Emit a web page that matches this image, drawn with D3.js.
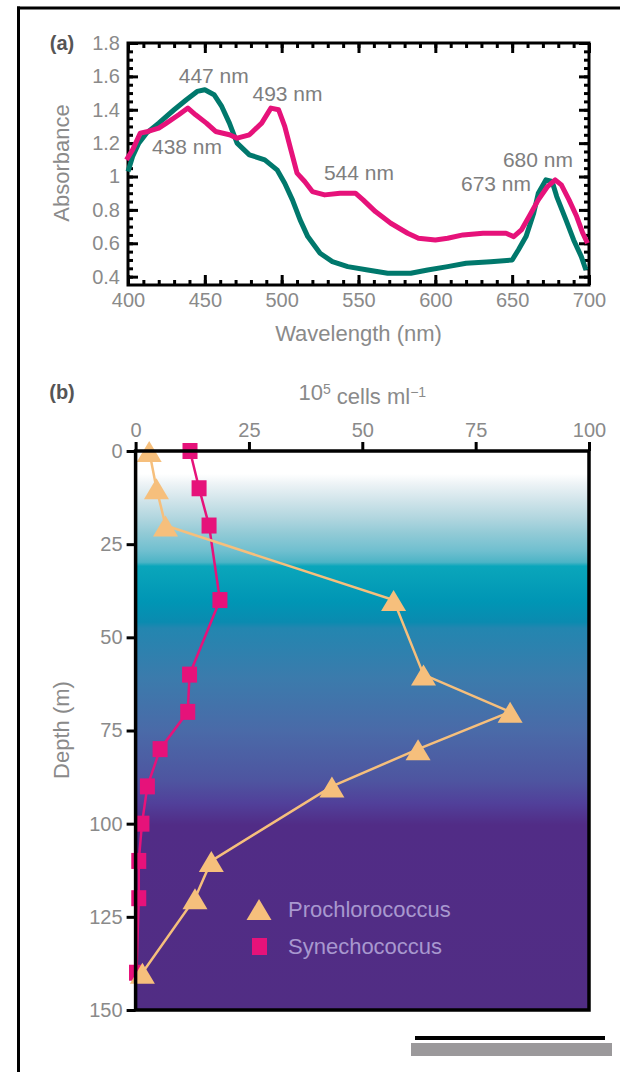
<!DOCTYPE html>
<html>
<head>
<meta charset="utf-8">
<script src="https://cdn.jsdelivr.net/npm/d3@7"></script>
<style>
  body { margin: 0; background: #fff; }
  svg { display: block; font-family: "Liberation Sans", Arial, sans-serif; }
  .tick text { fill: #8a8a8a; }
</style>
</head>
<body>
<script>
var W = 620, H = 1072;

// ---- panel (a): absorption spectra ----
var procWl  = [400,403,407,412,420,430,438,445,450,456,461,466,471,479,489,497,502,507,512,517,525,533,543,556,569,584,595,608,620,636,650,654,659,664,667,672,676,679,685,690,695,698];
var procAbs = [1.03,1.12,1.20,1.26,1.32,1.40,1.46,1.51,1.52,1.49,1.42,1.32,1.20,1.13,1.10,1.04,0.96,0.86,0.74,0.64,0.54,0.49,0.46,0.44,0.42,0.42,0.44,0.46,0.48,0.49,0.50,0.56,0.64,0.78,0.90,0.98,0.97,0.88,0.74,0.62,0.52,0.44];
var synWl   = [399,403,408,413,420,425,433,439,444,451,457,466,471,479,487,493,498,502,506,510,515,520,528,538,548,553,561,571,582,589,600,608,618,631,646,651,656,661,667,673,678,682,687,692,696,699];
var synAbs  = [1.10,1.16,1.26,1.27,1.29,1.32,1.37,1.41,1.37,1.32,1.27,1.25,1.23,1.25,1.32,1.41,1.40,1.30,1.16,1.02,0.97,0.91,0.89,0.90,0.90,0.86,0.79,0.72,0.66,0.63,0.62,0.63,0.65,0.66,0.66,0.64,0.68,0.76,0.86,0.94,0.98,0.95,0.86,0.76,0.66,0.60];
var peakText = ["447 nm","493 nm","438 nm","544 nm","680 nm","673 nm"];
var peakAtWl = [433,481,415.6,527.5,644,616.7];
var peakAtAb = [1.605,1.50,1.183,1.027,1.105,0.961];
var absTicks = [0.4,0.6,0.8,1,1.2,1.4,1.6,1.8];
var wlTicks  = [400,450,500,550,600,650,700];

// ---- panel (b): depth profiles ----
var procDepth = [0,10,20,40,60,70,80,90,110,120,140];
var procCells = [3,4.6,6.6,56.9,63.5,82.6,62.3,43.3,16.7,13.1,1.5];
var synDepth  = [0,10,20,40,60,70,80,90,100,110,120,140];
var synCells  = [12,14,16.2,18.6,11.9,11.5,5.4,2.6,1.4,0.7,0.7,0.2];
var cellTicks  = [0,25,50,75,100];
var depthTicks = [0,25,50,75,100,125,150];
var seriesNames = ["Prochlorococcus","Synechococcus"];

var teal = "#00786c", pink = "#e6127a", peach = "#f6bf7c", grey = "#8a8a8a";

var svg = d3.select("body").append("svg").attr("width", W).attr("height", H);

// outer frame lines
svg.append("line").attr("x1",17).attr("x2",W).attr("y1",8).attr("y2",8)
  .attr("stroke","#000").attr("stroke-width",3);
svg.append("line").attr("x1",18.5).attr("x2",18.5).attr("y1",6.5).attr("y2",H)
  .attr("stroke","#000").attr("stroke-width",3);

// ================= (a) =================
var xA = d3.scaleLinear().domain([400,700]).range([128,589]);
var yA = d3.scaleLinear().domain([0.35,1.8]).range([285,43]);
var ga = svg.append("g");

function absFmt(d){ return d === 1 ? "1" : d3.format(".1f")(d); }
var minorWl = d3.range(400,701,10), minorAb = d3.range(8,37).map(function(i){ return i*0.05; });

function tickStyle(sel){
  sel.select(".domain").remove();
  sel.selectAll(".tick line").attr("stroke","#000").attr("stroke-width",3);
  sel.selectAll(".tick text").style("font-size","20px");
}
ga.append("g").attr("transform","translate(0,285)")
  .call(d3.axisBottom(xA).tickValues(minorWl).tickSize(-5).tickFormat("")).call(tickStyle);
ga.append("g").attr("transform","translate(0,285)")
  .call(d3.axisBottom(xA).tickValues(wlTicks).tickSize(-10).tickPadding(8)).call(tickStyle);
ga.append("g").attr("transform","translate(0,43)")
  .call(d3.axisTop(xA).tickValues(minorWl).tickSize(-5).tickFormat("")).call(tickStyle);
ga.append("g").attr("transform","translate(0,43)")
  .call(d3.axisTop(xA).tickValues(wlTicks).tickSize(-10).tickFormat("")).call(tickStyle);
ga.append("g").attr("transform","translate(128,0)")
  .call(d3.axisLeft(yA).tickValues(minorAb).tickSize(-5).tickFormat("")).call(tickStyle);
ga.append("g").attr("transform","translate(128,0)")
  .call(d3.axisLeft(yA).tickValues(absTicks).tickSize(-10).tickPadding(8).tickFormat(absFmt)).call(tickStyle);
ga.append("g").attr("transform","translate(589,0)")
  .call(d3.axisRight(yA).tickValues(minorAb).tickSize(-5).tickFormat("")).call(tickStyle);
ga.append("g").attr("transform","translate(589,0)")
  .call(d3.axisRight(yA).tickValues(absTicks).tickSize(-10).tickFormat("")).call(tickStyle);

ga.append("rect").attr("x",128).attr("y",43).attr("width",461).attr("height",242)
  .attr("fill","none").attr("stroke","#000").attr("stroke-width",3);

var lineA = d3.line().x(function(d){ return xA(d[0]); }).y(function(d){ return yA(d[1]); });
ga.append("path").datum(d3.zip(procWl, procAbs)).attr("d", lineA)
  .attr("fill","none").attr("stroke",teal).attr("stroke-width",5).attr("stroke-linejoin","round");
ga.append("path").datum(d3.zip(synWl, synAbs)).attr("d", lineA)
  .attr("fill","none").attr("stroke",pink).attr("stroke-width",5).attr("stroke-linejoin","round");

ga.selectAll(".peak").data(peakText).enter().append("text")
  .attr("class","peak")
  .attr("x", function(d,i){ return xA(peakAtWl[i]); })
  .attr("y", function(d,i){ return yA(peakAtAb[i]); })
  .attr("dy","0.36em").attr("fill","#7e7e7e").style("font-size","21px")
  .text(function(d){ return d; });

ga.append("text").attr("x",62).attr("y",43).attr("dy","0.36em").attr("text-anchor","middle")
  .attr("fill","#555").style("font-size","20px").style("font-weight","bold").text("(a)");
ga.append("text").attr("transform","translate(61,163) rotate(-90)").attr("dy","0.36em")
  .attr("text-anchor","middle").attr("fill",grey).style("font-size","22px").text("Absorbance");
ga.append("text").attr("x",358.5).attr("y",333).attr("dy","0.36em").attr("text-anchor","middle")
  .attr("fill",grey).style("font-size","22px").text("Wavelength (nm)");

// ================= (b) =================
var xB = d3.scaleLinear().domain([0,100]).range([135.6,589]);
var yB = d3.scaleLinear().domain([0,150]).range([451,1010]);
var gb = svg.append("g");

var defs = svg.append("defs");
var grad = defs.append("linearGradient").attr("id","sea").attr("x1",0).attr("y1",0).attr("x2",0).attr("y2",1);
[[0,"#ffffff"],[0.041,"#ffffff"],[0.059,"#edf3f6"],[0.089,"#d0e4ea"],[0.12,"#b1d6df"],[0.148,"#91cad6"],
 [0.179,"#6fbfcf"],[0.199,"#4db4c6"],[0.206,"#0aa6bb"],[0.268,"#0096b5"],[0.306,"#0a8bb0"],[0.317,"#2386b0"],
 [0.406,"#3b7bac"],[0.501,"#4a6aa8"],[0.589,"#4e55a0"],[0.63,"#51409a"],[0.669,"#512c86"],[1,"#512d84"]]
.forEach(function(s){ grad.append("stop").attr("offset",s[0]).attr("stop-color",s[1]); });

gb.append("rect").attr("x",xB(0)).attr("y",yB(0)).attr("width",xB(100)-xB(0)).attr("height",yB(150)-yB(0))
  .attr("fill","url(#sea)");

gb.append("g").attr("transform","translate(0,"+yB(0)+")")
  .call(d3.axisTop(xB).tickValues(cellTicks).tickSize(9).tickPadding(5)).call(tickStyle);
gb.append("g").attr("transform","translate("+xB(0)+",0)")
  .call(d3.axisLeft(yB).tickValues(depthTicks).tickSize(9).tickPadding(4)).call(tickStyle);

var lineB = d3.line().x(function(d){ return xB(d[1]); }).y(function(d){ return yB(d[0]); });
var synPts = d3.zip(synDepth, synCells), procPts = d3.zip(procDepth, procCells);
gb.append("path").datum(synPts).attr("d", lineB).attr("fill","none").attr("stroke",pink).attr("stroke-width",2.5);
gb.append("path").datum(procPts).attr("d", lineB).attr("fill","none").attr("stroke",peach).attr("stroke-width",2.5);

var triPath = "M0,-10L12.5,11L-12.5,11Z";
gb.selectAll(".sq").data(synPts).enter().append("rect").attr("class","sq")
  .attr("x", function(d){ return xB(d[1]) - 7.5; }).attr("y", function(d){ return yB(d[0]) - 8; })
  .attr("width",15).attr("height",16).attr("fill",pink);
gb.selectAll(".tri").data(procPts).enter().append("path").attr("class","tri")
  .attr("d", triPath)
  .attr("transform", function(d){ return "translate("+xB(d[1])+","+yB(d[0])+")"; })
  .attr("fill",peach);

gb.append("rect").attr("x",xB(0)).attr("y",yB(0)).attr("width",xB(100)-xB(0)).attr("height",yB(150)-yB(0))
  .attr("fill","none").attr("stroke","#000").attr("stroke-width",3.5);

// legend
var leg = gb.append("g").attr("transform","translate(259,909)");
leg.append("path").attr("d",triPath).attr("fill",peach);
leg.append("rect").attr("x",-7).attr("y",29).attr("width",15).attr("height",17).attr("fill",pink);
leg.selectAll("text").data(seriesNames).enter().append("text")
  .attr("x",29).attr("y",function(d,i){ return i*37.5; }).attr("dy","0.36em")
  .attr("fill","#a898cf").style("font-size","22px").text(function(d){ return d; });

gb.append("text").attr("x",62).attr("y",392).attr("dy","0.36em").attr("text-anchor","middle")
  .attr("fill","#555").style("font-size","20px").style("font-weight","bold").text("(b)");
var unit = gb.append("text").attr("x",(xB(0)+xB(100))/2).attr("y",392).attr("dy","0.36em")
  .attr("text-anchor","middle").attr("fill",grey).style("font-size","22px");
unit.append("tspan").text("10");
unit.append("tspan").attr("dy","-0.45em").style("font-size","14px").text("5");
unit.append("tspan").attr("dy","0.45em").text(" cells ml");
unit.append("tspan").attr("dy","-0.45em").style("font-size","14px").text("\u22121");
gb.append("text").attr("transform","translate(61,730) rotate(-90)").attr("dy","0.36em")
  .attr("text-anchor","middle").attr("fill",grey).style("font-size","22px").text("Depth (m)");

// bars at bottom right
svg.append("line").attr("x1",415).attr("x2",605).attr("y1",1038).attr("y2",1038)
  .attr("stroke","#000").attr("stroke-width",4);
svg.append("rect").attr("x",411).attr("y",1043).attr("width",201).attr("height",13).attr("fill","#9b999b");
</script>
</body>
</html>
